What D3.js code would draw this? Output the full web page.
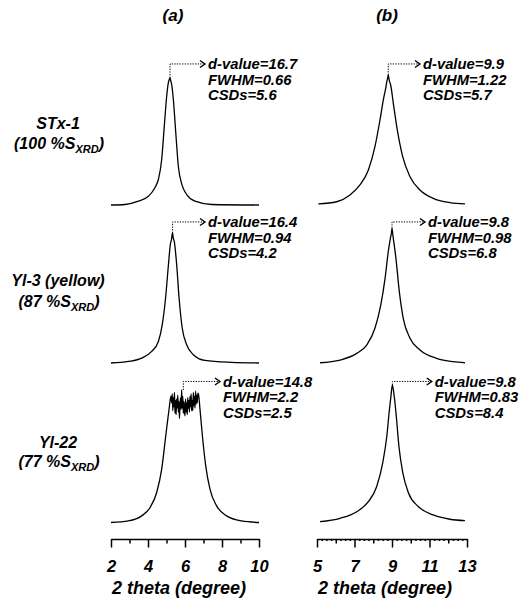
<!DOCTYPE html>
<html>
<head>
<meta charset="utf-8">
<script src="https://cdn.jsdelivr.net/npm/d3@7"></script>
<style>
  html, body { margin: 0; padding: 0; background: #fff; }
  svg { display: block; }
  text { font-family: "Liberation Sans", Arial, sans-serif; font-weight: bold; font-style: italic; fill: #000; }
</style>
</head>
<body>
<svg id="chart" width="523" height="601"></svg>
<script>
// ---------------- DATA ----------------
const panelTitles = ["(a)", "(b)"];
const sampleNames = ["STx-1", "Yl-3 (yellow)", "Yl-22"];
const sampleSxrd = ["100", "87", "77"];

const ticksA = [2, 4, 6, 8, 10];
const minorTicksA = [3, 5, 7, 9];
const ticksB = [5, 7, 9, 11, 13];
const minorTicksB = [6, 8, 10, 12];
const axisTitle = "2 theta (degree)";

// [2theta, relative intensity]
const stx1A = [[2.0,0],[2.76,0.4],[3.48,2.9],[4.02,6.7],[4.38,13.5],[4.56,19.6],[4.74,35],[4.88,60.5],[5.01,83.7],[5.10,94.2],[5.15,96.5],[5.19,97.8],[5.23,95.5],[5.28,92.7],[5.37,81.2],[5.50,55.8],[5.64,29.8],[5.83,15.8],[6.09,8.1],[6.54,2.9],[7.44,0.4],[10.0,0]];
const yl3A = [[2.0,0],[2.94,1.2],[3.66,3.8],[4.20,8.9],[4.56,16.6],[4.77,29.5],[4.95,50],[5.09,73.1],[5.22,92.3],[5.27,95],[5.30,98.5],[5.33,100],[5.36,96.5],[5.42,93.6],[5.55,75.6],[5.68,50],[5.85,26.9],[6.09,14.1],[6.45,6.4],[7.08,2.0],[8.52,0.5],[10.0,0]];
const yl22A = [[2.0,0],[2.94,1.2],[3.66,5.1],[4.11,11.5],[4.47,23.1],[4.74,41],[4.96,66.7],[5.14,87.2],[5.24,97.2],
  [5.28,92],[5.31,99],[5.34,86],[5.37,96],[5.40,89],[5.43,100],[5.46,84],[5.49,94],[5.52,83],[5.55,95],[5.58,88],[5.61,98],[5.64,85],[5.67,93],[5.70,80],[5.73,91],[5.76,96],[5.79,87],[5.82,102],[5.85,88],[5.88,97],[5.91,84],[5.94,93],[5.97,86],[6.00,82],[6.03,95],[6.06,85],[6.09,92],[6.12,83],[6.15,96],[6.18,88],[6.21,94],[6.24,85],[6.27,97],[6.30,89],[6.33,99],[6.36,86],[6.39,94],[6.42,86],[6.45,100],[6.48,90],[6.51,97],[6.54,88],[6.57,101],[6.60,91],[6.63,98],[6.66,92],[6.70,99],
  [6.72,99.5],[6.81,87.2],[6.94,66.7],[7.12,43.6],[7.35,25.6],[7.71,12.8],[8.25,5.1],[9.06,1.2],[10.0,0]];

const stx1B = [[5.07,0.8],[6.05,2.5],[6.76,7.7],[7.29,15.4],[7.74,26.9],[8.09,44.9],[8.36,65.4],[8.57,83.3],[8.64,88],[8.68,91],[8.72,94.8],[8.76,97],[8.80,100],[8.85,96],[8.93,92.3],[9.07,78.2],[9.28,57.9],[9.57,37.2],[9.96,21.8],[10.49,11.5],[11.20,5.1],[12.09,1.8],[12.89,0.8]];
const yl3B = [[5.16,0.2],[6.23,2.3],[7.12,7.4],[7.65,13.8],[8.09,26.7],[8.40,44.6],[8.63,65.1],[8.80,85.6],[8.88,93],[8.93,97.2],[8.97,100],[9.00,103.6],[9.04,99],[9.07,95.9],[9.21,80.5],[9.39,54.9],[9.60,34.4],[9.96,19.0],[10.49,10.0],[11.38,3.6],[12.26,1.0],[12.89,0.2]];
const yl22B = [[5.16,0.6],[6.23,3.2],[7.12,8.3],[7.74,16],[8.18,27.5],[8.50,45.5],[8.72,66],[8.86,86.5],[8.95,98],[9.02,105.8],[9.12,96.9],[9.23,81.5],[9.37,58.5],[9.58,38],[9.88,22.7],[10.40,12.3],[11.20,5.8],[12.09,2.5],[12.89,1.4]];

// annotations
const dValuesA = ["16.7", "16.4", "14.8"];
const fwhmA = ["0.66", "0.94", "2.2"];
const csdA = ["5.6", "4.2", "2.5"];
const dValuesB = ["9.9", "9.8", "9.8"];
const fwhmB = ["1.22", "0.98", "0.83"];
const csdB = ["5.7", "6.8", "8.4"];
const peakThetaA = [5.19, 5.33, 5.91];
const peakIntA = [97.8, 100, 102];
const peakThetaB = [8.80, 9.00, 9.02];
const peakIntB = [100, 103.6, 105.8];
const arrowThetaA = [7.08, 7.08, 7.89];
const arrowThetaB = [10.49, 10.76, 11.12];

// ---------------- LAYOUT ----------------
const svg = d3.select("#chart");
const xA = d3.scaleLinear().domain([2, 10]).range([111, 259]);
const xB = d3.scaleLinear().domain([5, 13]).range([317, 467]);
const rowBase = [205, 363, 522.5];
const rowHeight = 130;
const yRows = rowBase.map(b => d3.scaleLinear().domain([0, 100]).range([b, b - rowHeight]));
const lineLevel = 108.5;
const axisY = 539;

svg.append("rect").attr("width", 523).attr("height", 601).attr("fill", "#fff");

// panel titles
svg.append("text").attr("x", 173).attr("y", 20.5).attr("text-anchor", "middle").style("font-size", "17px").text(panelTitles[0]);
svg.append("text").attr("x", 387).attr("y", 20.5).attr("text-anchor", "middle").style("font-size", "17px").text(panelTitles[1]);

// sample labels
const labelY = [[123, 143], [280, 301], [442, 461]];
sampleNames.forEach((name, i) => {
  svg.append("text").attr("x", 58).attr("y", labelY[i][0] + 5.6)
    .attr("text-anchor", "middle").style("font-size", "16px").text(name);
  const t = svg.append("text").attr("x", 59).attr("y", labelY[i][1] + 5.6)
    .attr("text-anchor", "middle").style("font-size", "16px");
  t.append("tspan").text("(" + sampleSxrd[i] + " %S");
  t.append("tspan").attr("dy", 4).style("font-size", "11px").text("XRD");
  t.append("tspan").attr("dy", -4).text(")");
});

// curves
const seriesA = [stx1A, yl3A, yl22A];
const seriesB = [stx1B, yl3B, yl22B];
function drawCurve(data, x, y) {
  const line = d3.line().x(d => x(d[0])).y(d => y(d[1])).curve(d3.curveMonotoneX);
  svg.append("path").datum(data).attr("d", line)
    .attr("fill", "none").attr("stroke", "#000").attr("stroke-width", 1.3).attr("stroke-linejoin", "round");
}
seriesA.forEach((s, i) => drawCurve(s, xA, yRows[i]));
seriesB.forEach((s, i) => drawCurve(s, xB, yRows[i]));

// annotations
function drawAnn(x, y, pt, pi, at, dv, fw, cs) {
  const px = x(pt), py = y(pi), ly = y(lineLevel), ax = x(at);
  svg.append("path")
    .attr("d", `M${px},${py} L${px},${ly} L${ax},${ly}`)
    .attr("fill", "none").attr("stroke", "#000").attr("stroke-width", 1)
    .attr("stroke-dasharray", "1.3,1.3");
  svg.append("path")
    .attr("d", `M${ax - 5},${ly - 3.5} L${ax},${ly} L${ax - 5},${ly + 3.5}`)
    .attr("fill", "none").attr("stroke", "#000").attr("stroke-width", 1.4);
  const tx = ax + 3;
  [["d-value=" + dv, 0], ["FWHM=" + fw, 15.5], ["CSDs=" + cs, 31]].forEach(([s, off]) => {
    svg.append("text").attr("x", tx).attr("y", ly + off + 5.2)
      .style("font-size", "14.8px").text(s);
  });
}
for (let i = 0; i < 3; i++) {
  drawAnn(xA, yRows[i], peakThetaA[i], peakIntA[i], arrowThetaA[i], dValuesA[i], fwhmA[i], csdA[i]);
  drawAnn(xB, yRows[i], peakThetaB[i], peakIntB[i], arrowThetaB[i], dValuesB[i], fwhmB[i], csdB[i]);
}

// axes
function drawAxis(x, major, minor, fine) {
  const g = svg.append("g").attr("transform", `translate(0,${axisY})`);
  if (fine) {
    g.append("g").call(d3.axisBottom(x).tickValues(fine).tickSize(2).tickSizeOuter(0).tickFormat(""))
      .call(a => a.select(".domain").remove());
  }
  g.append("g").call(d3.axisBottom(x).tickValues(minor).tickSize(4.5).tickSizeOuter(0).tickFormat(""))
    .call(a => a.select(".domain").remove());
  const m = g.append("g").call(d3.axisBottom(x).tickValues(major).tickSize(8.5).tickSizeOuter(0).tickPadding(13).tickFormat(d3.format("d")));
  g.selectAll("line").attr("stroke", "#000").attr("stroke-width", 1.5);
  m.select(".domain").attr("stroke", "#000").attr("stroke-width", 1.6);
  m.selectAll("text").style("font-size", "16.5px").style("font-family", '"Liberation Sans", Arial, sans-serif')
    .style("font-weight", "bold").style("font-style", "italic").attr("fill", "#000");
  svg.append("text").attr("x", x.range()[0] + 1).attr("y", 593.5).style("font-size", "18px").text(axisTitle);
}
drawAxis(xA, ticksA, minorTicksA, null);
drawAxis(xB, ticksB, minorTicksB, d3.range(5.25, 13, 0.25).filter(v => v % 1 !== 0));
</script>
</body>
</html>
